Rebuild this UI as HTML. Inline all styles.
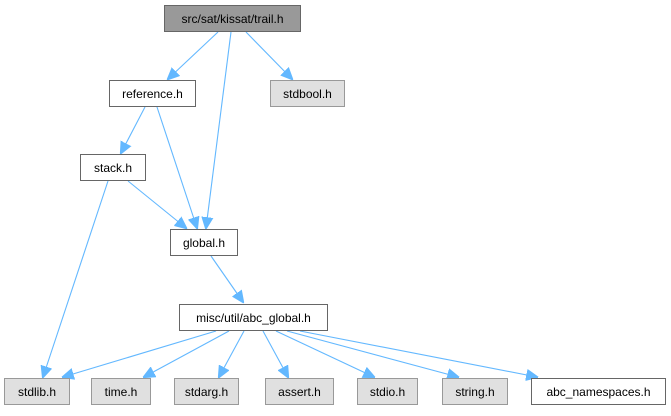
<!DOCTYPE html>
<html><head><meta charset="utf-8"><style>
html,body{margin:0;padding:0;background:#fff;}
svg text{font-family:"Liberation Sans",Arial,sans-serif;font-size:12px;fill:#000;}
</style></head><body>
<svg width="671" height="411" viewBox="0 0 671 411" xmlns="http://www.w3.org/2000/svg">
<defs>
<marker id="a" viewBox="0 0 10 10" refX="9" refY="5" markerWidth="12" markerHeight="12" markerUnits="userSpaceOnUse" orient="auto">
<path d="M0,0.5 L10,5 L0,9.5 z" fill="#63b8ff" stroke="#63b8ff"/>
</marker>
</defs>
<g stroke="#63b8ff" stroke-width="1.1" fill="none" marker-end="url(#a)">
<line x1="218" y1="32" x2="168" y2="79"/>
<line x1="231" y1="32" x2="206" y2="228"/>
<line x1="246" y1="32" x2="292" y2="79"/>
<line x1="145" y1="107" x2="121" y2="153"/>
<line x1="157" y1="107" x2="197" y2="228"/>
<line x1="128" y1="181" x2="186" y2="228"/>
<line x1="108" y1="181" x2="43" y2="377"/>
<line x1="211" y1="256" x2="243" y2="302"/>
<line x1="216" y1="331" x2="63" y2="377"/>
<line x1="229" y1="331" x2="144" y2="377"/>
<line x1="244" y1="331" x2="219" y2="377"/>
<line x1="263" y1="331" x2="288" y2="377"/>
<line x1="276" y1="331" x2="374" y2="377"/>
<line x1="287" y1="331" x2="458" y2="377"/>
<line x1="300" y1="331" x2="537" y2="377"/>
</g>
<g stroke-width="1">
<rect x="164.5" y="5.5" width="136" height="26" fill="#999999" stroke="#666"/>
<rect x="109.5" y="80.5" width="86" height="26" fill="#fff" stroke="#666"/>
<rect x="270.5" y="80.5" width="74" height="26" fill="#e0e0e0" stroke="#999"/>
<rect x="80.5" y="154.5" width="65" height="26" fill="#fff" stroke="#666"/>
<rect x="170.5" y="229.5" width="67" height="26" fill="#fff" stroke="#666"/>
<rect x="179.5" y="304.5" width="148" height="26" fill="#fff" stroke="#666"/>
<rect x="4.5" y="378.5" width="65" height="26" fill="#e0e0e0" stroke="#999"/>
<rect x="91.5" y="378.5" width="59" height="26" fill="#e0e0e0" stroke="#999"/>
<rect x="174.5" y="378.5" width="64" height="26" fill="#e0e0e0" stroke="#999"/>
<rect x="265.5" y="378.5" width="68" height="26" fill="#e0e0e0" stroke="#999"/>
<rect x="357.5" y="378.5" width="60" height="26" fill="#e0e0e0" stroke="#999"/>
<rect x="442.5" y="378.5" width="65" height="26" fill="#e0e0e0" stroke="#999"/>
<rect x="531.5" y="378.5" width="134" height="26" fill="#fff" stroke="#666"/>
</g>
<g text-anchor="middle">
<text x="232.5" y="23">src/sat/kissat/trail.h</text>
<text x="152.5" y="98">reference.h</text>
<text x="307.5" y="98">stdbool.h</text>
<text x="113" y="172">stack.h</text>
<text x="204" y="247">global.h</text>
<text x="253.5" y="322">misc/util/abc_global.h</text>
<text x="37" y="396">stdlib.h</text>
<text x="121" y="396">time.h</text>
<text x="206.5" y="396">stdarg.h</text>
<text x="299.5" y="396">assert.h</text>
<text x="387.5" y="396">stdio.h</text>
<text x="475" y="396">string.h</text>
<text x="598.5" y="396">abc_namespaces.h</text>
</g>
</svg>
</body></html>
